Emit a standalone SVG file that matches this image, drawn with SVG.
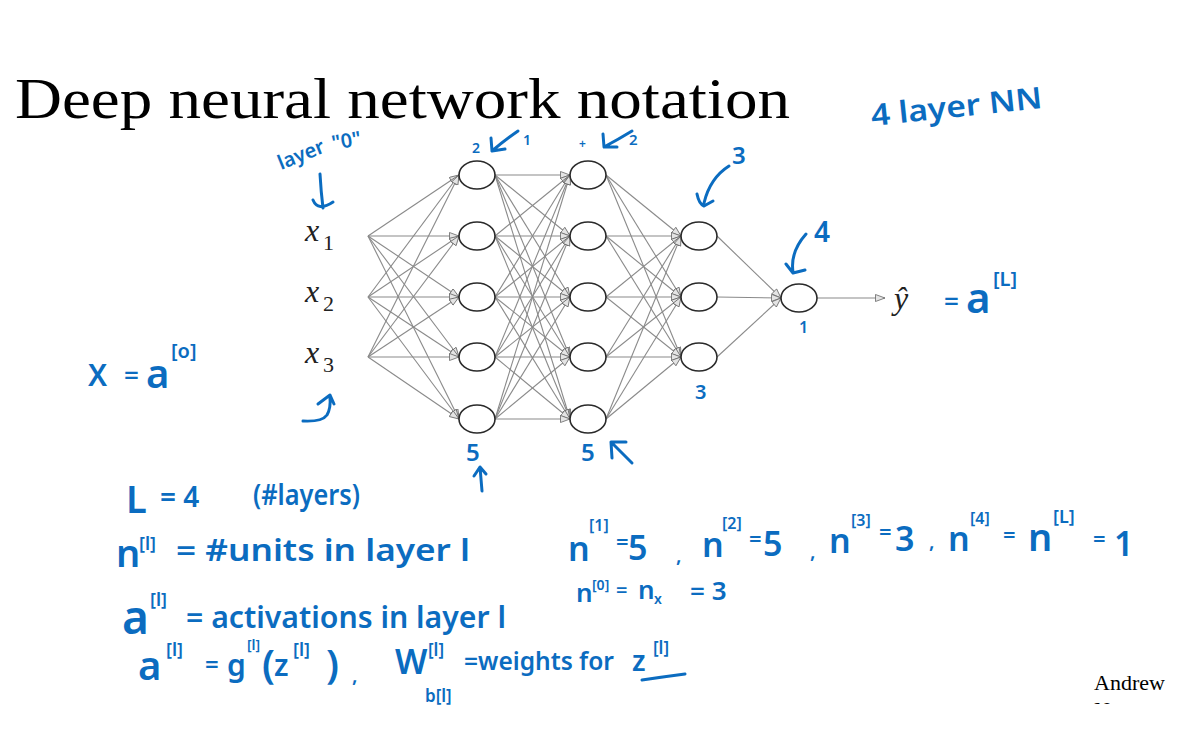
<svg xmlns="http://www.w3.org/2000/svg" width="1198" height="741" viewBox="0 0 1198 741">
<style>
.hw{fill:#0b6cc0;font-family:"Noto Sans","DejaVu Sans",sans-serif;font-weight:600}
.hs{fill:none;stroke:#0b6cc0;stroke-width:3;stroke-linecap:round;stroke-linejoin:round}
.nd{fill:#fff;stroke:#2a2a2a;stroke-width:1.6}
.ed{stroke:#8a8a8a;stroke-width:1.1;fill:none;marker-end:url(#ah)}
.mx{font-family:"Liberation Serif","DejaVu Serif",serif;font-style:italic;fill:#222}
.sb{font-family:"Liberation Serif","DejaVu Serif",serif;fill:#222}
</style>
<defs>
<marker id="ah" markerUnits="userSpaceOnUse" markerWidth="11" markerHeight="9" refX="10" refY="4" orient="auto">
<path d="M0.5,0.5 L10,4 L0.5,7.5 z" fill="#e4e4e4" stroke="#666" stroke-width="0.8"/>
</marker>
<clipPath id="clipBottom"><rect x="0" y="0" width="1198" height="704"/></clipPath>
</defs>
<rect width="1198" height="741" fill="#fff"/>

<text x="15" y="118" font-family="'Liberation Serif','DejaVu Serif',serif" font-size="58" fill="#000" textLength="775" lengthAdjust="spacingAndGlyphs">Deep neural network notation</text>

<g id="connectors">
<path class="ed" d="M368,236 L459,175"/><path class="ed" d="M368,236 L459,236"/><path class="ed" d="M368,236 L459,297"/><path class="ed" d="M368,236 L459,357"/><path class="ed" d="M368,236 L459,419"/>
<path class="ed" d="M368,297 L459,175"/><path class="ed" d="M368,297 L459,236"/><path class="ed" d="M368,297 L459,297"/><path class="ed" d="M368,297 L459,357"/><path class="ed" d="M368,297 L459,419"/>
<path class="ed" d="M368,357 L459,175"/><path class="ed" d="M368,357 L459,236"/><path class="ed" d="M368,357 L459,297"/><path class="ed" d="M368,357 L459,357"/><path class="ed" d="M368,357 L459,419"/>
<path class="ed" d="M495,175 L570,175"/><path class="ed" d="M495,175 L570,236"/><path class="ed" d="M495,175 L570,297"/><path class="ed" d="M495,175 L570,357"/><path class="ed" d="M495,175 L570,419"/>
<path class="ed" d="M495,236 L570,175"/><path class="ed" d="M495,236 L570,236"/><path class="ed" d="M495,236 L570,297"/><path class="ed" d="M495,236 L570,357"/><path class="ed" d="M495,236 L570,419"/>
<path class="ed" d="M495,297 L570,175"/><path class="ed" d="M495,297 L570,236"/><path class="ed" d="M495,297 L570,297"/><path class="ed" d="M495,297 L570,357"/><path class="ed" d="M495,297 L570,419"/>
<path class="ed" d="M495,357 L570,175"/><path class="ed" d="M495,357 L570,236"/><path class="ed" d="M495,357 L570,297"/><path class="ed" d="M495,357 L570,357"/><path class="ed" d="M495,357 L570,419"/>
<path class="ed" d="M495,419 L570,175"/><path class="ed" d="M495,419 L570,236"/><path class="ed" d="M495,419 L570,297"/><path class="ed" d="M495,419 L570,357"/><path class="ed" d="M495,419 L570,419"/>
<path class="ed" d="M606,175 L681,236"/><path class="ed" d="M606,175 L681,297"/><path class="ed" d="M606,175 L681,357"/>
<path class="ed" d="M606,236 L681,236"/><path class="ed" d="M606,236 L681,297"/><path class="ed" d="M606,236 L681,357"/>
<path class="ed" d="M606,297 L681,236"/><path class="ed" d="M606,297 L681,297"/><path class="ed" d="M606,297 L681,357"/>
<path class="ed" d="M606,357 L681,236"/><path class="ed" d="M606,357 L681,297"/><path class="ed" d="M606,357 L681,357"/>
<path class="ed" d="M606,419 L681,236"/><path class="ed" d="M606,419 L681,297"/><path class="ed" d="M606,419 L681,357"/>
<path class="ed" d="M717,236 L781,298"/><path class="ed" d="M717,297 L781,298"/><path class="ed" d="M717,357 L781,298"/>
<path class="ed" d="M817,298 L885,298"/>
</g>

<g id="x1"><text class="mx" x="305" y="241" font-size="32">x</text><text class="sb" x="323" y="250" font-size="22">1</text></g>
<g id="x2"><text class="mx" x="305" y="302" font-size="32">x</text><text class="sb" x="323" y="311" font-size="22">2</text></g>
<g id="x3"><text class="mx" x="305" y="363" font-size="32">x</text><text class="sb" x="323" y="372" font-size="22">3</text></g>

<g id="l1n1"><ellipse class="nd" cx="477" cy="175" rx="18" ry="14"/></g>
<g id="l1n2"><ellipse class="nd" cx="477" cy="236" rx="18" ry="14"/></g>
<g id="l1n3"><ellipse class="nd" cx="477" cy="297" rx="18" ry="14"/></g>
<g id="l1n4"><ellipse class="nd" cx="477" cy="357" rx="18" ry="14"/></g>
<g id="l1n5"><ellipse class="nd" cx="477" cy="419" rx="18" ry="14"/></g>
<g id="l2n1"><ellipse class="nd" cx="588" cy="175" rx="18" ry="14"/></g>
<g id="l2n2"><ellipse class="nd" cx="588" cy="236" rx="18" ry="14"/></g>
<g id="l2n3"><ellipse class="nd" cx="588" cy="297" rx="18" ry="14"/></g>
<g id="l2n4"><ellipse class="nd" cx="588" cy="357" rx="18" ry="14"/></g>
<g id="l2n5"><ellipse class="nd" cx="588" cy="419" rx="18" ry="14"/></g>
<g id="l3n1"><ellipse class="nd" cx="699" cy="236" rx="18" ry="14"/></g>
<g id="l3n2"><ellipse class="nd" cx="699" cy="297" rx="18" ry="14"/></g>
<g id="l3n3"><ellipse class="nd" cx="699" cy="357" rx="18" ry="14"/></g>
<g id="out"><ellipse class="nd" cx="799" cy="298" rx="18" ry="14"/></g>
<g id="yhat"><text class="mx" x="894" y="309" font-size="32">ŷ</text></g>

<g id="annotations">
<text class="hw" x="281" y="170" font-size="20" transform="rotate(-22 281 170)">layer</text>
<text class="hw" x="333" y="150" font-size="20" transform="rotate(-10 333 150)">"0"</text>
<path class="hs" d="M320,174 Q321,192 323,208 M313,200 Q318,212 333,202"/>

<text class="hw" x="88" y="386" font-size="30">X</text>
<text class="hw" x="124" y="384" font-size="26">=</text>
<text class="hw" x="146" y="388" font-size="40">a</text>
<text class="hw" x="171" y="358" font-size="20">[o]</text>
<path class="hs" d="M303,421 Q322,422 327,415 Q331,408 330,397 M318,404 L330,395 L334,404"/>

<text class="hw" x="472" y="153" font-size="14">2</text>
<path class="hs" d="M518,131 Q505,140 492,151 M491,138 L492,151 L505,149"/>
<text class="hw" x="523" y="145" font-size="14">1</text>
<text class="hw" x="579" y="148" font-size="12">+</text>
<path class="hs" d="M632,131 Q619,139 604,147 M603,134 L604,147 L617,147"/>
<text class="hw" x="629" y="145" font-size="15">2</text>
<text class="hw" x="732" y="164" font-size="24">3</text>
<path class="hs" d="M729,166 Q710,178 704,203 M697,194 Q699,204 704,206 L713,201"/>
<text class="hw" x="814" y="242" font-size="28">4</text>
<path class="hs" d="M806,234 Q790,252 793,272 M786,264 L793,273 L805,270"/>
<text class="hw" x="799" y="333" font-size="16">1</text>
<text class="hw" x="944" y="310" font-size="26">=</text>
<text class="hw" x="966" y="313" font-size="42">a</text>
<text class="hw" x="993" y="286" font-size="20">[L]</text>
<text class="hw" x="695" y="399" font-size="20">3</text>
<text class="hw" x="466" y="461" font-size="24">5</text>
<path class="hs" d="M482,491 L480,467 M474,476 L480,467 L486,474"/>
<text class="hw" x="581" y="461" font-size="24">5</text>
<path class="hs" d="M632,463 L611,442 M612,458 L611,442 L626,442"/>

<text class="hw" x="872" y="126" font-size="30" transform="rotate(-6 872 126)" textLength="172" lengthAdjust="spacingAndGlyphs">4 layer  NN</text>

<text class="hw" x="126" y="513" font-size="38">L</text>
<text class="hw" x="160" y="507" font-size="28">= 4</text>
<text class="hw" x="253" y="505" font-size="28" textLength="107" lengthAdjust="spacingAndGlyphs">(#layers)</text>

<text class="hw" x="116" y="567" font-size="38">n</text>
<text class="hw" x="139" y="550" font-size="18">[l]</text>
<text class="hw" x="176" y="561" font-size="30" textLength="294" lengthAdjust="spacingAndGlyphs">= #units  in  layer l</text>

<text class="hw" x="122" y="634" font-size="46">a</text>
<text class="hw" x="150" y="606" font-size="18">[l]</text>
<text class="hw" x="186" y="628" font-size="30" textLength="320" lengthAdjust="spacingAndGlyphs">= activations  in  layer l</text>

<text class="hw" x="138" y="680" font-size="40">a</text>
<text class="hw" x="166" y="656" font-size="18">[l]</text>
<text class="hw" x="205" y="673" font-size="24">=</text>
<text class="hw" x="227" y="676" font-size="30">g</text>
<text class="hw" x="247" y="650" font-size="14">[l]</text>
<text class="hw" x="262" y="678" font-size="40">(</text>
<text class="hw" x="274" y="676" font-size="30">z</text>
<text class="hw" x="293" y="656" font-size="18">[l]</text>
<text class="hw" x="326" y="678" font-size="40">)</text>
<text class="hw" x="352" y="682" font-size="20">,</text>
<text class="hw" x="395" y="674" font-size="34">W</text>
<text class="hw" x="428" y="656" font-size="17">[l]</text>
<text class="hw" x="425" y="702" font-size="17">b[l]</text>
<text class="hw" x="464" y="670" font-size="26" textLength="150" lengthAdjust="spacingAndGlyphs">=weights  for</text>
<text class="hw" x="632" y="671" font-size="28">z</text>
<text class="hw" x="653" y="654" font-size="17">[l]</text>
<path class="hs" d="M642,680 Q662,677 685,674"/>

<text class="hw" x="568" y="561" font-size="34">n</text>
<text class="hw" x="589" y="531" font-size="16">[1]</text>
<text class="hw" x="616" y="550" font-size="22">=</text>
<text class="hw" x="628" y="560" font-size="34">5</text>
<text class="hw" x="676" y="562" font-size="20">,</text>
<text class="hw" x="702" y="557" font-size="34">n</text>
<text class="hw" x="722" y="529" font-size="16">[2]</text>
<text class="hw" x="749" y="547" font-size="22">=</text>
<text class="hw" x="763" y="556" font-size="34">5</text>
<text class="hw" x="810" y="558" font-size="20">,</text>
<text class="hw" x="829" y="553" font-size="34">n</text>
<text class="hw" x="851" y="526" font-size="16">[3]</text>
<text class="hw" x="879" y="540" font-size="22">=</text>
<text class="hw" x="895" y="551" font-size="34">3</text>
<text class="hw" x="929" y="548" font-size="20">,</text>
<text class="hw" x="948" y="551" font-size="34">n</text>
<text class="hw" x="970" y="524" font-size="16">[4]</text>
<text class="hw" x="1003" y="543" font-size="22">=</text>
<text class="hw" x="1028" y="551" font-size="38">n</text>
<text class="hw" x="1053" y="523" font-size="18">[L]</text>
<text class="hw" x="1093" y="547" font-size="22">=</text>
<text class="hw" x="1114" y="556" font-size="34">1</text>

<text class="hw" x="576" y="602" font-size="26">n</text>
<text class="hw" x="592" y="590" font-size="14">[0]</text>
<text class="hw" x="616" y="597" font-size="20">=</text>
<text class="hw" x="638" y="599" font-size="26">n</text>
<text class="hw" x="654" y="604" font-size="14">x</text>
<text class="hw" x="690" y="600" font-size="26">= 3</text>
</g>

<g clip-path="url(#clipBottom)">
<text x="1094" y="690" font-family="'Liberation Serif',serif" font-size="22" fill="#000">Andrew</text>
<text x="1094" y="717" font-family="'Liberation Serif',serif" font-size="22" fill="#000">Ng</text>
</g>
</svg>
